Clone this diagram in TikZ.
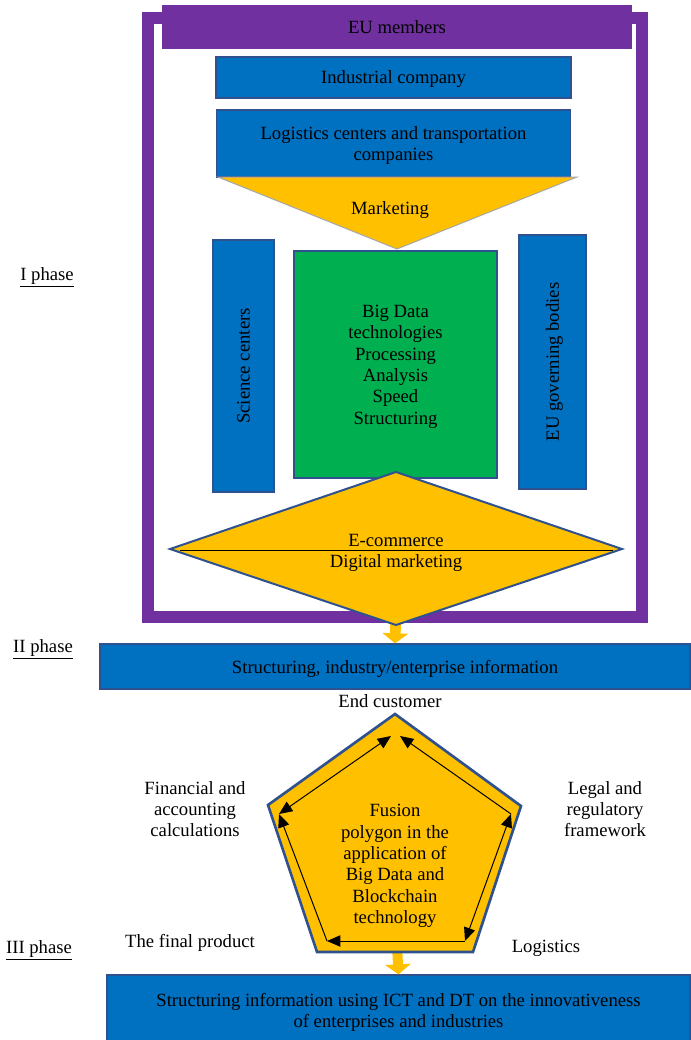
\documentclass[tikz,border=0pt]{standalone}
\usepackage{fontspec}
\setmainfont{Liberation Serif}
\usepackage{tikz}
\usetikzlibrary{arrows.meta,positioning}
\definecolor{eupurple}{HTML}{7030A0}
\definecolor{boxblue}{HTML}{0070C0}
\definecolor{boxgreen}{HTML}{00B050}
\definecolor{boxyellow}{HTML}{FFC000}
\definecolor{edgeblue}{HTML}{2F528F}
\tikzstyle{block} = [rectangle, draw=edgeblue, line width=1pt, fill=boxblue,
    text centered, align=center, inner sep=0pt, text depth=0pt]
\tikzstyle{txt} = [align=center, inner sep=0pt, text depth=0pt]
\tikzstyle{line} = [draw, line width=0.75pt, -{Triangle[length=10pt,width=8.5pt]}]
\tikzstyle{dline} = [draw, line width=0.75pt, {Triangle[length=10pt,width=8.5pt]}-{Triangle[length=10pt,width=8.5pt]}]
\tikzstyle{fat} = [draw=boxyellow, line width=8pt, -{Triangle[length=7.5pt,width=19pt]}]

\begin{document}
\begin{tikzpicture}[x=0.75pt,y=-0.75pt,font=\fontsize{14}{16}\selectfont]
    \useasboundingbox (0,0) rectangle (690,1040);
    % Place nodes
    \node [draw=eupurple, line width=9pt, minimum width=370.5pt, minimum height=449.6pt, inner sep=0pt] (frame) at (395,317.25) {};
    \node [block, fill=eupurple, draw=none, minimum width=352.5pt, minimum height=33pt] (eu) at (397,27) {EU members};
    \node [block, minimum width=266.25pt, minimum height=30.75pt] (ind) at (393.5,77.5) {Industrial company};
    \node [block, minimum width=265.5pt, minimum height=50.25pt, below=8pt of ind] (logi) {Logistics centers and transportation\\companies};
    \draw [draw=gray!70, line width=0.75pt, fill=boxyellow] (218,177) coordinate (mkL) -- (577,177) coordinate (mkR) -- (397,249) coordinate (mkT) -- cycle;
    \node [txt] (mark) at (390,208) {Marketing};
    \node [block, rotate=90, minimum width=189pt, minimum height=45.75pt] (sci) at (243.5,366) {Science centers};
    \node [block, fill=boxgreen, minimum width=152.25pt, minimum height=170.25pt] (bigd) at (395.5,364.5) {Big Data\\technologies\\Processing\\Analysis\\Speed\\Structuring};
    \node [block, rotate=90, minimum width=190.5pt, minimum height=50.25pt] (gov) at (552.5,362) {EU governing bodies};
    \node [block, minimum width=442.5pt, minimum height=33.75pt] (bar2) at (395,666.5) {Structuring, industry/enterprise information};
    \coordinate (dS) at (396,612);
    \path [fat] (dS) -- (bar2.north);
    \draw [draw=edgeblue, line width=1.5pt, fill=boxyellow] (170,549) coordinate (dL) -- (396,472) coordinate (dT) -- (622,549) coordinate (dR) -- (396,625) coordinate (dB) -- cycle;
    \coordinate (ecL) at (180,550);
    \coordinate (ecR) at (613,550);
    \draw [line width=0.75pt] (ecL) -- (ecR);
    \node [txt] (ecom) at (396,540) {E-commerce};
    \node [txt] (digm) at (396,561) {Digital marketing};
    \node [txt] (endc) at (390,701) {End customer};
    \node [block, minimum width=437.25pt, minimum height=53.25pt] (bar3) at (398.5,1010.5) {Structuring information using ICT and DT on the innovativeness\\of enterprises and industries};
    \coordinate (pS) at (397,945);
    \path [fat, line width=7.5pt] (pS) -- (bar3.north);
    \draw [draw=edgeblue, line width=2pt, fill=boxyellow] (395,714) coordinate (pT) -- (521,806) coordinate (pR) -- (473,952) coordinate (pBR) -- (317,952) coordinate (pBL) -- (268,805) coordinate (pL) -- cycle;
    \node [txt] (fus) at (395,864) {Fusion\\polygon in the\\application of\\Big Data and\\Blockchain\\technology};
    \node [txt] (fin) at (195,809) {Financial and\\accounting\\calculations};
    \node [txt] (legal) at (605,809) {Legal and\\regulatory\\framework};
    \node [txt] (prod) at (190,941) {The final product};
    \node [txt] (logs) at (546,946) {Logistics};
    \node [txt] (ph1) at (47,274) {\underline{I phase}};
    \node [txt] (ph2) at (43,646) {\underline{II phase}};
    \node [txt] (ph3) at (39,947) {\underline{III phase}};
    % Draw edges
    \coordinate (aT1) at (391,736);
    \coordinate (aT2) at (400,736);
    \coordinate (aL) at (279,814);
    \coordinate (aR) at (511,814);
    \coordinate (aBL) at (327,941);
    \coordinate (aBR) at (465,941);
    \path [dline] (aL) -- (aT1);
    \path [line] (aR) -- (aT2);
    \path [dline] (aR) -- (aBR);
    \path [line] (aBR) -- (aBL);
    \path [line] (aBL) -- (aL);
\end{tikzpicture}
\end{document}
